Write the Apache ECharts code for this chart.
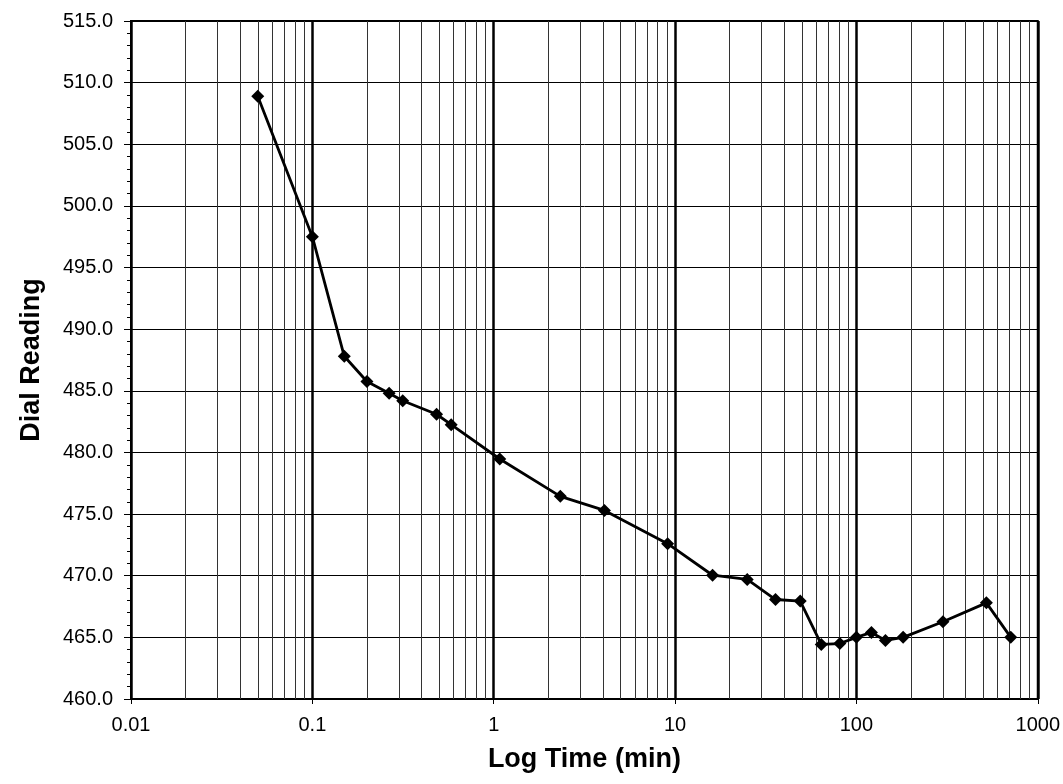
<!DOCTYPE html>
<html>
<head>
<meta charset="utf-8">
<script src="https://cdn.jsdelivr.net/npm/echarts@6/dist/echarts.min.js"></script>
<style>html,body{margin:0;padding:0;background:#fff}#chart{width:1063px;height:784px}</style>
</head>
<body>
<div id="chart"></div>
<script>
var timeMin = [0.05, 0.1, 0.15, 0.2, 0.265, 0.315, 0.484, 0.583, 1.08, 2.33, 4.08, 9.1, 16.1, 25.0, 35.8, 49.0, 64.0, 81.0, 100.0, 121.0, 144.6, 181.0, 300.0, 521.0, 710.0];
var dialReading = [508.9, 497.5, 487.8, 485.76, 484.8, 484.2, 483.1, 482.25, 479.47, 476.44, 475.3, 472.6, 470.04, 469.7, 468.07, 467.94, 464.43, 464.5, 465.0, 465.4, 464.75, 465.0, 466.27, 467.8, 465.0];
var xTickLabels = ['0.01', '0.1', '1', '10', '100', '1000'];
var decades = [0.01, 0.1, 1, 10, 100];
var minorMultipliers = [2, 3, 4, 5, 6, 7, 8, 9];

var minorLines = [];
decades.forEach(function (d) {
  minorMultipliers.forEach(function (m) { minorLines.push({ xAxis: d * m }); });
});

var chart = echarts.init(document.getElementById('chart'), null, { renderer: 'canvas' });
var font = 'Liberation Sans, Arial, Helvetica, sans-serif';
chart.setOption({
  animation: false,
  backgroundColor: '#fff',
  grid: { left: 131, right: 25, top: 21, bottom: 85, show: true, borderColor: '#000', borderWidth: 2, backgroundColor: 'transparent' },
  xAxis: {
    type: 'log', logBase: 10, min: 0.01, max: 1000,
    name: 'Log Time (min)', nameLocation: 'middle', nameGap: 47,
    nameTextStyle: { fontFamily: font, fontWeight: 'bold', fontSize: 27, color: '#000' },
    axisLine: { show: true, lineStyle: { color: '#000', width: 2 } },
    axisTick: { show: true, inside: false, length: 5, lineStyle: { color: '#000', width: 1 } },
    axisLabel: {
      margin: 16, fontFamily: font, fontSize: 20, color: '#000',
      formatter: function (v) {
        var i = Math.round(Math.log10(v)) + 2;
        return xTickLabels[i] !== undefined ? xTickLabels[i] : '';
      }
    },
    splitLine: { show: true, lineStyle: { color: '#000', width: 2.5 } },
    minorTick: { show: false },
    minorSplitLine: { show: false }
  },
  yAxis: {
    type: 'value', min: 460, max: 515, interval: 5,
    name: 'Dial Reading', nameLocation: 'middle', nameGap: 86, nameRotate: 90,
    nameTextStyle: { fontFamily: font, fontWeight: 'bold', fontSize: 27, color: '#000' },
    axisLine: { show: true, lineStyle: { color: '#000', width: 2 } },
    axisTick: { show: true, inside: false, length: 7, lineStyle: { color: '#000', width: 1 } },
    minorTick: { show: true, splitNumber: 5, length: 4, lineStyle: { color: '#000', width: 1 } },
    axisLabel: {
      margin: 18, fontFamily: font, fontSize: 20, color: '#000',
      formatter: function (v) { return v.toFixed(1); }
    },
    splitLine: { show: true, lineStyle: { color: '#000', width: 1 } }
  },
  series: [
    {
      type: 'line', data: [], z: 1, silent: true,
      markLine: {
        silent: true, symbol: ['none', 'none'], label: { show: false },
        lineStyle: { color: '#333', width: 1, type: 'solid' },
        emphasis: { disabled: true },
        data: minorLines
      }
    },
    {
      type: 'line', z: 5,
      data: timeMin.map(function (t, i) { return [t, dialReading[i]]; }),
      symbol: 'diamond', symbolSize: 13,
      itemStyle: { color: '#000' },
      lineStyle: { color: '#000', width: 2.8 }
    }
  ]
});
</script>
</body>
</html>
